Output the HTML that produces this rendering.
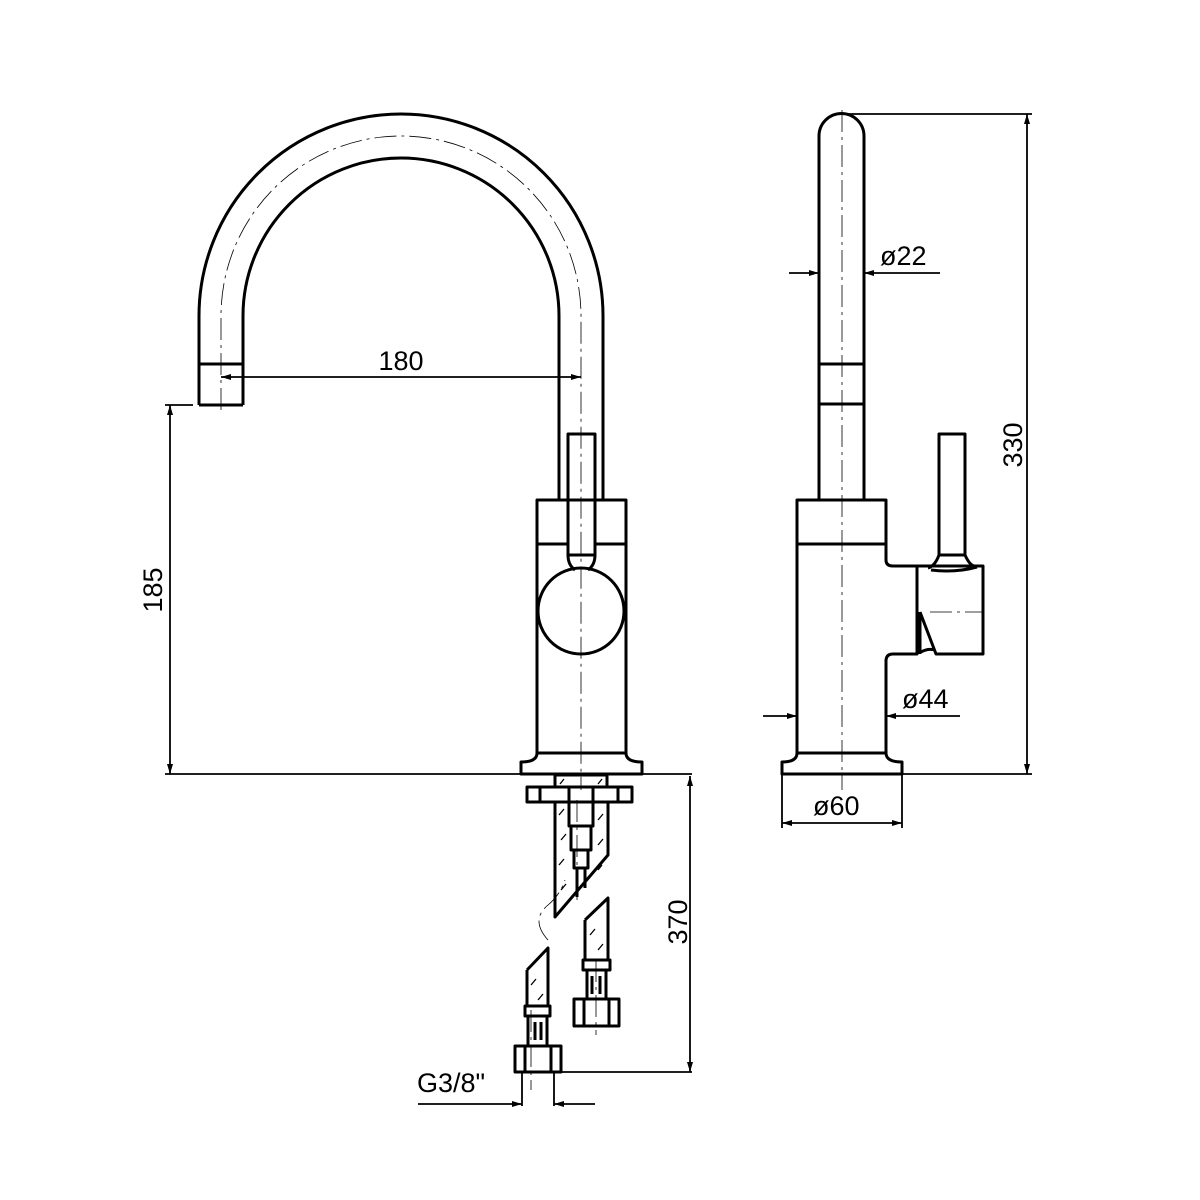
<!DOCTYPE html>
<html><head><meta charset="utf-8"><style>html,body{margin:0;padding:0;background:#fff}svg{display:block}</style></head><body>
<svg width="1200" height="1200" viewBox="0 0 1200 1200" xmlns="http://www.w3.org/2000/svg">
<defs>
<marker id="a" viewBox="0 0 10 6" refX="10" refY="3" markerWidth="12" markerHeight="6" orient="auto-start-reverse" markerUnits="userSpaceOnUse"><path d="M0,0 L10,3 L0,6 Z" fill="#000"/></marker>
</defs>
<rect width="1200" height="1200" fill="#fff"/>
<g fill="none" stroke="#000" stroke-width="3" stroke-linejoin="round">
<path d="M199,405 L199,316 A202,202 0 0 1 603,316 L603,500"/>
<path d="M243,405 L243,316 A158,158 0 0 1 559,316 L559,500"/>
<path d="M199,364 H243 M199,405 H243"/>
<path d="M537,500 H626 V753 Q626,762 642,762 V774 H521 V762 Q537,762 537,753 Z"/>
<path d="M537,544 H568 M595,544 H626 M537,753 H626"/>
<path d="M568,555 V434 H595 V555"/>
<path d="M568,555 Q568,565 575,570 M595,555 Q595,565 588,570 M568,555 H595"/>
<circle cx="581" cy="611" r="43"/>
<rect x="555" y="775" width="52" height="12"/>
<rect x="527" y="787" width="105" height="15"/>
<path d="M540,787 V802 M618,787 V802 M569,787 V802 M593,787 V802"/>
<path d="M555,802 V917 L608,855 V802"/>
<path d="M569,802 V826 H593 V802 M571,826 V850 H591 V826 M574,850 V868 H588 V850"/>
<path d="M577,868 V897 M585,868 V888"/>
<path d="M527,970 L548,948 V1006 M527,970 V1006"/>
<rect x="525" y="1006" width="25" height="10"/>
<path d="M528,1016 V1046 M547,1016 V1046 M535,1022 V1040 M541,1022 V1040"/>
<rect x="515" y="1046" width="46" height="26"/>
<path d="M525,1046 V1072 M551,1046 V1072"/>
<path d="M585,920 L608,898 V960 M585,920 V960"/>
<rect x="583" y="960" width="27" height="10"/>
<path d="M587,970 V999 M606,970 V999 M592,976 V994 M600,976 V994"/>
<rect x="574" y="999" width="45" height="27"/>
<path d="M584,999 V1026 M609,999 V1026"/>
<path d="M819,500 V136 A22.5,22.5 0 0 1 864,136 V500"/>
<path d="M819,364 H864 M819,404 H864"/>
<path d="M797,753 V500 H886 V560 Q886,566 893,566 H917 V654 H893 Q886,654 886,661 V753 Q886,762 902,762 V774 H782 V762 Q797,762 797,753 Z"/>
<path d="M797,544 H886 M797,753 H886"/>
<path d="M917,566 H983 V654 H936 L920,612"/>
<path d="M939,555 V434 H965 V555 M939,555 H965 M939,555 Q935,566 928,568 M965,555 Q970,566 975,566 M931,570 Q955,573 977,567"/>
<path d="M920,612 V654 M921,652 Q928,648 935,650"/>
</g>
<g fill="none" stroke="#000" stroke-width="0.8" stroke-dasharray="22,5,3,5">
<path d="M221,410 V316 A180,180 0 0 1 581,316 V790"/>
<path d="M842,110 V790"/>
<path d="M577,800 V900 M531,1010 V1090 M596,960 V1035 M930,612 H983"/>
<path d="M548,940 Q530,920 548,905 Q560,895 565,880"/>
</g>
<g stroke="#000" stroke-width="1.3" fill="none">
<path d="M559,815 l5,-6 M561,840 l5,-6 M559,865 l5,-6 M561,890 l5,-6 M598,820 l5,-6 M598,845 l5,-6 M598,870 l4,-5 M531,985 l5,-6 M538,1000 l5,-6 M590,935 l5,-6 M598,950 l5,-6 M560,784 l4,-5 M598,784 l4,-5"/>
</g>
<g fill="none" stroke="#000" stroke-width="1.8">
<path d="M165,774 H692"/>
<path d="M165,405 H193"/>
<path d="M170,405 V774" marker-start="url(#a)" marker-end="url(#a)"/>
<path d="M221,377 H581" marker-start="url(#a)" marker-end="url(#a)"/>
<path d="M690,776 V1072" marker-start="url(#a)" marker-end="url(#a)"/>
<path d="M561,1072 H692"/>
<path d="M522,1072 V1106 M554,1072 V1106"/>
<path d="M418,1104 H522" marker-end="url(#a)"/>
<path d="M595,1104 H554" marker-end="url(#a)"/>
<path d="M842,114 H1032 M902,774 H1032"/>
<path d="M1027,114 V774" marker-start="url(#a)" marker-end="url(#a)"/>
<path d="M782,774 V828 M902,774 V828"/>
<path d="M782,823 H902" marker-start="url(#a)" marker-end="url(#a)"/>
<path d="M789,273 H819" marker-end="url(#a)"/>
<path d="M940,273 H864" marker-end="url(#a)"/>
<path d="M763,716 H797" marker-end="url(#a)"/>
<path d="M960,716 H886" marker-end="url(#a)"/>
</g>
<g font-family="'Liberation Sans', 'DejaVu Sans', sans-serif" font-size="27" fill="#000">
<text x="401" y="370" text-anchor="middle">180</text>
<text transform="translate(162,590) rotate(-90)" text-anchor="middle">185</text>
<text transform="translate(687,922) rotate(-90)" text-anchor="middle">370</text>
<text transform="translate(1022,445) rotate(-90)" text-anchor="middle">330</text>
<text x="880" y="265">ø22</text>
<text x="902" y="708">ø44</text>
<text x="813" y="815">ø60</text>
<text x="417" y="1092">G3/8"</text>
</g>
</svg>
</body></html>
